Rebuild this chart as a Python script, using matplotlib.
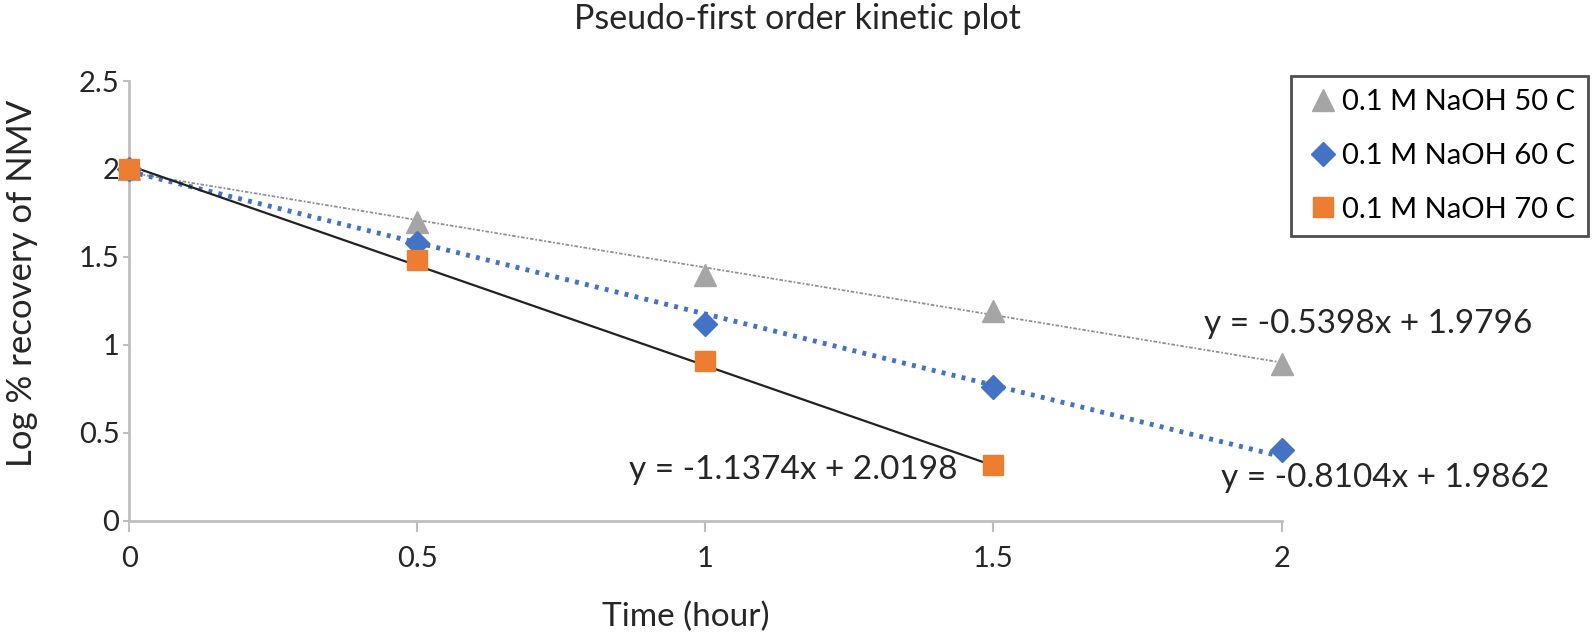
import matplotlib.pyplot as plt
import numpy as np

plt.rcParams['font.family'] = ['Lato', 'DejaVu Sans']

time = [0, 0.5, 1, 1.5, 2]
time_70 = [0, 0.5, 1, 1.5]
log_50 = [2.0, 1.70, 1.40, 1.19, 0.89]
log_60 = [2.0, 1.58, 1.12, 0.76, 0.40]
log_70 = [2.0, 1.48, 0.91, 0.32]
labels = ['0.1 M NaOH 50 C', '0.1 M NaOH 60 C', '0.1 M NaOH 70 C']
fits = [(-0.5398, 1.9796), (-0.8104, 1.9862), (-1.1374, 2.0198)]

fig = plt.figure(figsize=(15.94, 6.43), dpi=100)
ax = fig.add_axes([0.081, 0.190, 0.723, 0.684])

c_gray = '#a5a5a5'
c_blue = '#4472c4'
c_orange = '#ed7d31'
txt = '#262626'

# trendlines
xs = np.array([0, 2])
ax.plot(xs, fits[0][0] * xs + fits[0][1], color='#909090', lw=1.3, ls=(0, (2, 1, 1, 1)), zorder=2)
ax.plot(xs, fits[1][0] * xs + fits[1][1], color=c_blue, lw=3.5, ls=(0, (0.8, 1.3)), zorder=2)
xs70 = np.array([0, 1.5])
ax.plot(xs70, fits[2][0] * xs70 + fits[2][1], color='#222222', lw=1.6, zorder=2)

ax.plot(time, log_50, '^', color=c_gray, ms=16, ls='none', label=labels[0], zorder=3, clip_on=False)
ax.plot(time, log_60, 'D', color=c_blue, ms=12, ls='none', label=labels[1], zorder=3, clip_on=False)
ax.plot(time_70, log_70, 's', color=c_orange, ms=15, ls='none', label=labels[2], zorder=4, clip_on=False)

ax.text(2.15, 1.12, 'y = -0.5398x + 1.9796', fontsize=24, ha='center', va='center', color=txt)
ax.text(2.18, 0.245, 'y = -0.8104x + 1.9862', fontsize=24, ha='center', va='center', color=txt)
ax.text(1.153, 0.29, 'y = -1.1374x + 2.0198', fontsize=24, ha='center', va='center', color=txt)

ax.set_xlim(0, 2)
ax.set_ylim(0, 2.5)
ax.set_xticks([0, 0.5, 1, 1.5, 2])
ax.set_xticklabels(['0', '0.5', '1', '1.5', '2'])
ax.set_yticks([0, 0.5, 1, 1.5, 2, 2.5])
ax.set_yticklabels(['0', '0.5', '1', '1.5', '2', '2.5'])
ax.tick_params(labelsize=21, color='#bfbfbf', width=1.5, labelcolor=txt)
ax.tick_params(axis='x', pad=10, length=8)
ax.tick_params(axis='y', pad=3, length=4)
for s in ['top', 'right']:
    ax.spines[s].set_visible(False)
for s in ['left', 'bottom']:
    ax.spines[s].set_color('#bfbfbf')
    ax.spines[s].set_linewidth(2)

ax.set_xlabel('Time (hour)', fontsize=24, color=txt)
ax.xaxis.set_label_coords(0.483, -0.185)
ax.set_ylabel('Log % recovery of NMV', fontsize=25, color=txt, va='center')
ax.yaxis.set_label_coords(-0.093, 0.54)
fig.suptitle('Pseudo-first order kinetic plot', fontsize=24.5, color=txt, y=0.995)

leg = ax.legend(loc='upper left', frameon=True, fontsize=21, handletextpad=0.0,
                borderpad=0.45, labelspacing=0.95, handlelength=1.3, fancybox=False,
                borderaxespad=0)
leg.get_frame().set_edgecolor('#222222')
leg.get_frame().set_linewidth(2)
leg.set_bbox_to_anchor((1291 / 1594, 1 - 76 / 643), transform=fig.transFigure)

fig.savefig('out.png', dpi=100)
